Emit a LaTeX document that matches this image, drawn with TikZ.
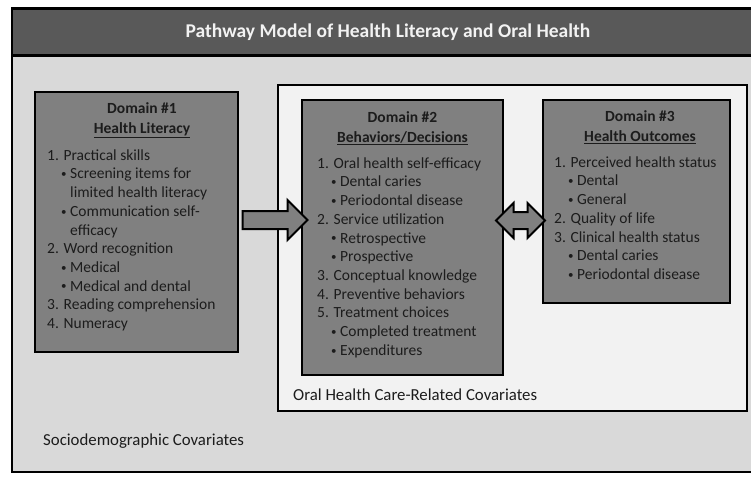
\documentclass[tikz,border=0pt]{standalone}
\usepackage{fontspec}
\setmainfont{Carlito}
\usetikzlibrary{shapes.arrows}
\definecolor{titlegray}{HTML}{595959}
\definecolor{backgray}{HTML}{D9D9D9}
\definecolor{paler}{HTML}{F2F2F2}
\definecolor{domgray}{HTML}{808080}
\definecolor{inkgray}{HTML}{1C1C1C}
\tikzstyle{framebox} = [rectangle, draw=black, line width=2.5pt, inner sep=0pt]
\tikzstyle{domainbox} = [framebox, fill=domgray]
\tikzstyle{head} = [align=center, inner sep=0pt, text=inkgray, font=\bfseries\fontsize{15.5}{20}\selectfont]
\tikzstyle{listtext} = [align=left, anchor=north west, inner sep=0pt, text=inkgray, font=\fontsize{15.5}{18.7}\selectfont]
\tikzstyle{covlabel} = [anchor=west, inner sep=0pt, text=inkgray, font=\fontsize{16.8}{20}\selectfont]
\tikzstyle{blockarrow} = [draw=black, line width=2pt, fill=domgray, inner xsep=0pt]
\newcommand{\bul}{\hspace*{14pt}\makebox[9pt][l]{\raisebox{1.2pt}{\fontsize{11}{11}\selectfont\textbullet}}}
\newcommand{\cont}{\hspace*{23pt}}

\begin{document}
\begin{tikzpicture}[x=1pt, y=-1pt]
    \useasboundingbox (0,0) rectangle (751,476);
    \node [framebox, fill=backgray, minimum width=752, minimum height=464] at (388,240) (socio) {};
    \node [framebox, fill=titlegray, minimum width=752, minimum height=47, text=paler, font=\bfseries\fontsize{19.5}{22}\selectfont] at (388,32) (title) {Pathway Model of Health Literacy and Oral Health};
    \node [framebox, fill=paler, minimum width=469, minimum height=326] at (512.5,248) (oralcare) {};
    \node [domainbox, minimum width=203, minimum height=260] at (136.5,222) (dom1) {};
    \node [domainbox, minimum width=201, minimum height=275] at (402.5,237.5) (dom2) {};
    \node [domainbox, minimum width=187, minimum height=203] at (636.5,201.5) (dom3) {};
    \node [head] at (142,120.5) (dom1head) {Domain \#1\\\underline{Health Literacy}};
    \node [head] at (402.5,128) (dom2head) {Domain \#2\\\underline{Behaviors/Decisions}};
    \node [head] at (640,127) (dom3head) {Domain \#3\\\underline{Health Outcomes}};
    \node [listtext] at (47,147) (dom1list) {\strut 1. Practical skills\\
        \bul Screening items for\\ \cont limited health literacy\\
        \bul Communication self-\\ \cont efficacy\\
        2. Word recognition\\ \bul Medical\\ \bul Medical and dental\\
        3. Reading comprehension\\ 4. Numeracy};
    \node [listtext] at (317,155) (dom2list) {\strut 1. Oral health self-efficacy\\
        \bul Dental caries\\ \bul Periodontal disease\\
        2. Service utilization\\ \bul Retrospective\\ \bul Prospective\\
        3. Conceptual knowledge\\ 4. Preventive behaviors\\
        5. Treatment choices\\ \bul Completed treatment\\ \bul Expenditures};
    \node [listtext] at (554,154) (dom3list) {\strut 1. Perceived health status\\
        \bul Dental\\ \bul General\\ 2. Quality of life\\
        3. Clinical health status\\ \bul Dental caries\\ \bul Periodontal disease};
    \node [covlabel] at (293,395) (oralcov) {Oral Health Care-Related Covariates};
    \node [covlabel] at (43,441) (sociocov) {Sociodemographic Covariates};
    \node [blockarrow, single arrow, inner ysep=8pt, single arrow head extend=11pt, minimum height=65] at (270.5,220) (arr12) {};
    \node [blockarrow, double arrow, inner ysep=7.5pt, double arrow head extend=9pt, minimum height=49] at (520.5,220.5) (arr23) {};
\end{tikzpicture}
\end{document}
